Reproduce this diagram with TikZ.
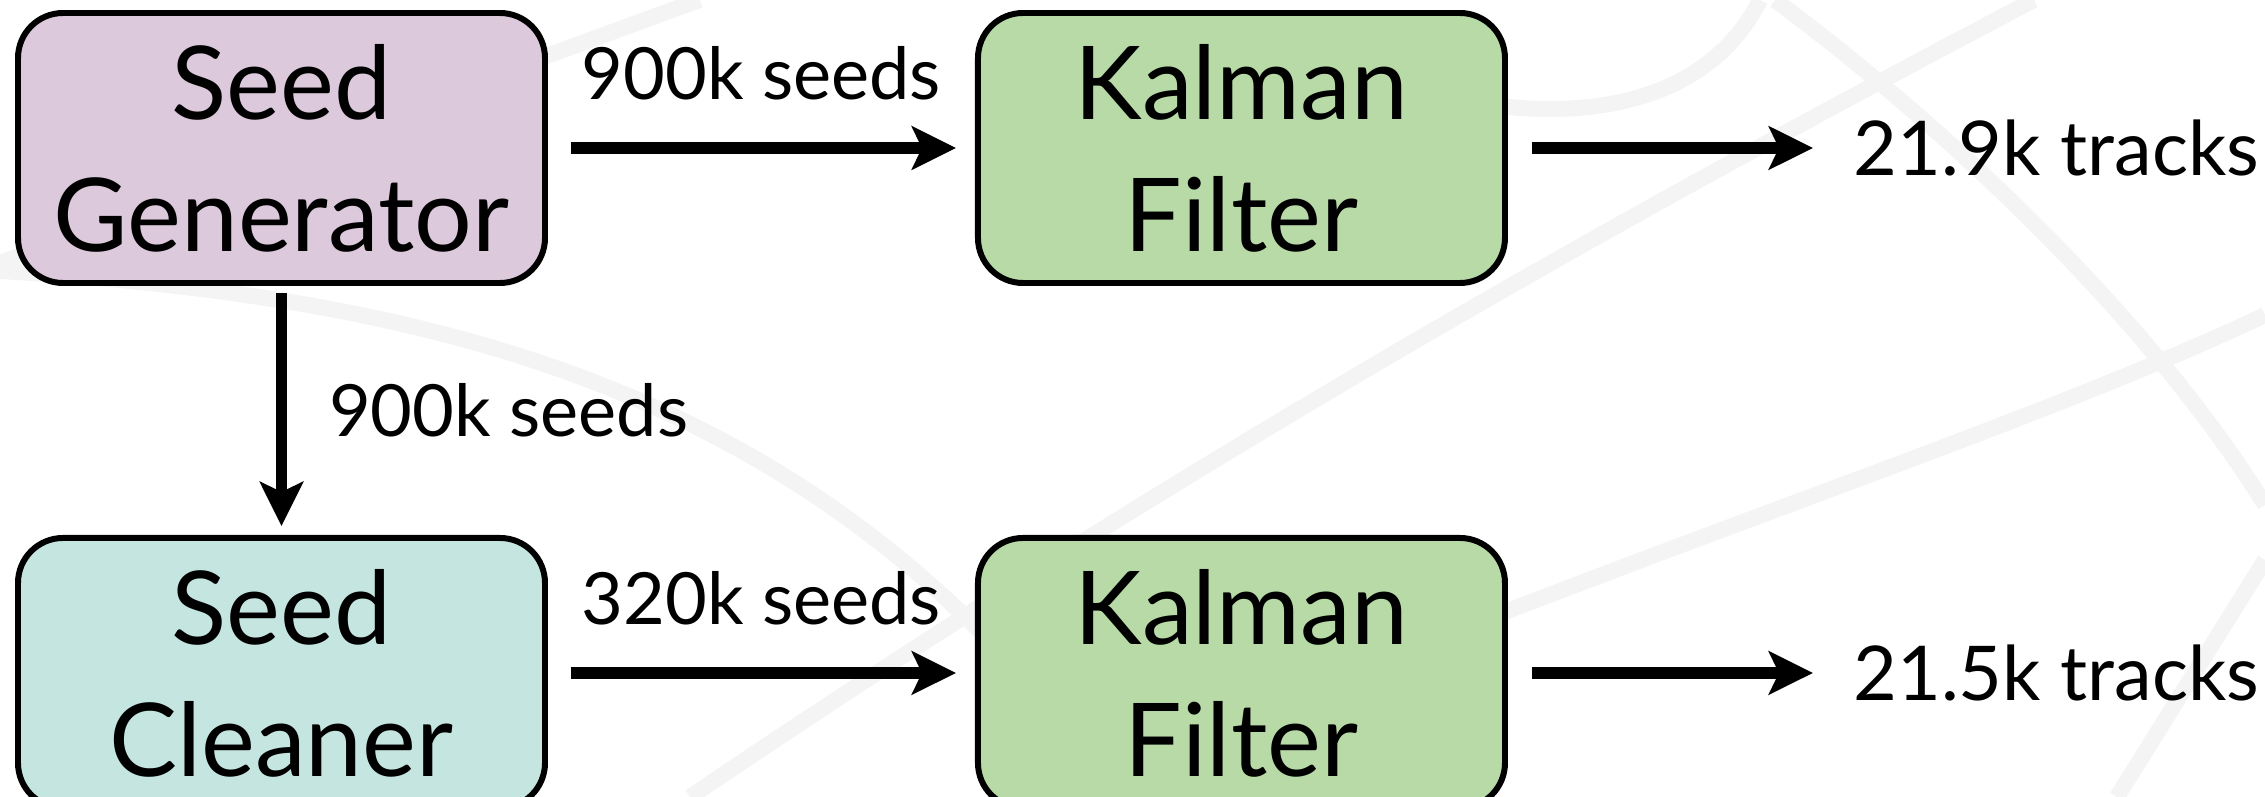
\documentclass[tikz,border=0pt]{standalone}
\usepackage{fontspec}
\setmainfont{Lato}
\usetikzlibrary{arrows.meta, positioning}

\definecolor{genfill}{RGB}{220,201,219}
\definecolor{kalfill}{RGB}{183,218,167}
\definecolor{cleanfill}{RGB}{196,229,224}
\definecolor{faint}{RGB}{244,244,244}

\begin{document}
\begin{tikzpicture}[
  node distance=2.49cm and 4.27cm,
  box/.style={rectangle, rounded corners=4.5mm, draw, line width=1.7pt, minimum width=5.27cm, minimum height=2.70cm, align=center, font=\fontsize{29}{37.5}\selectfont},
  arrow/.style={-{Stealth[length=4.4mm, width=4.3mm, inset=1mm]}, line width=3.3pt},
  count/.style={font=\fontsize{20.5}{24}\selectfont},
  tally/.style={font=\fontsize{21.5}{25}\selectfont},
  swoosh/.style={draw=faint, line width=1.6mm}
]
\useasboundingbox (0,0) rectangle (22.65,-7.97);

% pale swooshes behind the chart
\draw [swoosh] (0,-2.63) .. controls (2.5,-1.7) and (4.5,-0.9) .. (7.0,0);
\draw [swoosh] (0,-2.71) .. controls (5,-3.0) and (8.5,-4.2) .. (11.2,-7.97);
\draw [swoosh] (6.9,-7.97) .. controls (11,-5.2) and (15,-2.8) .. (20.34,0);
\draw [swoosh] (17.75,0) .. controls (19.5,-1.3) and (21.5,-3.2) .. (22.65,-5.05);
\draw [swoosh] (22.65,-3.15) .. controls (20,-4.4) and (16,-5.6) .. (10.5,-7.97);
\draw [swoosh] (22.65,-5.6) -- (21.17,-7.97);
\draw [swoosh] (17.6,0) .. controls (17.1,-1.0) and (15.9,-1.25) .. (14.6,-1.0);

\node (gen) [box, fill=genfill] at (2.815,-1.48) {Seed\\Generator};
\node (kal1) [box, fill=kalfill, right=of gen] {Kalman\\Filter};
\node (clean) [box, fill=cleanfill, below=of gen] {Seed\\Cleaner};
\node (kal2) [box, fill=kalfill, right=of clean] {Kalman\\Filter};

\node (out1) [tally, right=3.33cm of kal1] {21.9k tracks};
\node (out2) [tally, right=3.33cm of kal2] {21.5k tracks};

\draw [arrow, shorten <=0.23cm, shorten >=0.19cm] (gen) -- node [count, above=0.3cm] {900k seeds} (kal1);
\draw [arrow, shorten <=0.07cm, shorten >=0.09cm] (gen) -- node [count, right=0.3cm] {900k seeds} (clean);
\draw [arrow, shorten <=0.23cm, shorten >=0.19cm] (clean) -- node [count, above=0.3cm] {320k seeds} (kal2);
\draw [arrow, shorten <=0.24cm, shorten >=0.28cm] (kal1) -- (out1);
\draw [arrow, shorten <=0.24cm, shorten >=0.28cm] (kal2) -- (out2);

\end{tikzpicture}
\end{document}
